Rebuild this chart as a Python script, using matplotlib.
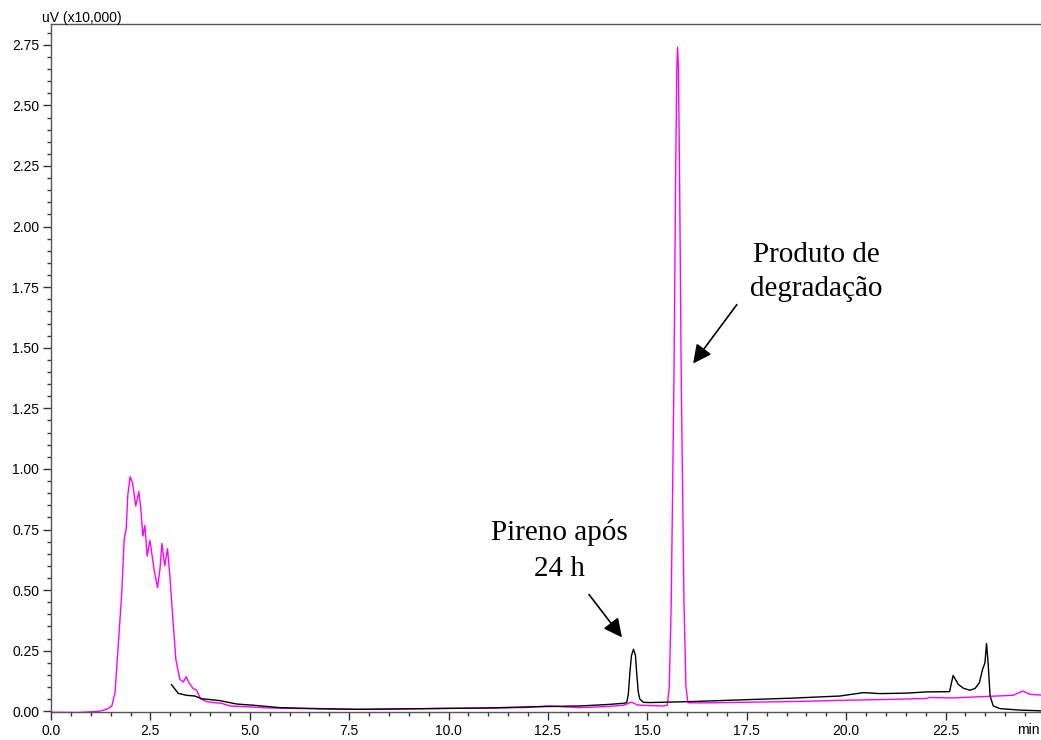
import numpy as np
import matplotlib
matplotlib.use("Agg")
import matplotlib.pyplot as plt
from matplotlib.ticker import MultipleLocator, FixedLocator

# cromatograma: produto de degradacao (magenta)
t_magenta = [0.0, 0.7, 1.2, 1.4, 1.53, 1.61, 1.69, 1.78, 1.84, 1.89, 1.93, 1.99,
             2.05, 2.13, 2.21, 2.26, 2.31, 2.36, 2.42, 2.49, 2.59, 2.68, 2.74,
             2.79, 2.86, 2.93, 2.99, 3.06, 3.14, 3.24, 3.33, 3.40, 3.48, 3.58,
             3.66, 3.76, 3.92, 4.08, 4.29, 4.5, 4.92, 5.42, 6.0, 7.0, 8.0, 9.0,
             10.0, 11.0, 12.0, 12.5, 13.3, 14.0, 14.4, 14.6, 14.75, 15.0, 15.4,
             15.50, 15.55, 15.60, 15.67, 15.71, 15.74, 15.76, 15.78, 15.81,
             15.85, 15.92, 15.97, 16.02, 16.5, 17.33, 18.6, 19.84, 21.1, 22.0,
             22.1, 22.65, 23.5, 24.2, 24.44, 24.62, 24.9]
uv_magenta = [-0.004, -0.005, 0.0, 0.008, 0.022, 0.077, 0.27, 0.49, 0.71, 0.75,
              0.89, 0.968, 0.943, 0.847, 0.906, 0.833, 0.723, 0.767, 0.64,
              0.705, 0.586, 0.51, 0.586, 0.693, 0.60, 0.671, 0.558, 0.393,
              0.214, 0.132, 0.121, 0.143, 0.115, 0.093, 0.088, 0.052, 0.040,
              0.036, 0.033, 0.022, 0.019, 0.014, 0.012, 0.009, 0.008, 0.010,
              0.012, 0.013, 0.016, 0.022, 0.015, 0.020, 0.025, 0.038, 0.026,
              0.024, 0.022, 0.025, 0.10, 0.45, 1.40, 2.20, 2.65, 2.74, 2.66,
              2.20, 1.40, 0.45, 0.10, 0.035, 0.035, 0.037, 0.040, 0.045, 0.049,
              0.053, 0.057, 0.055, 0.061, 0.066, 0.084, 0.070, 0.067]

# cromatograma: pireno apos 24 h (preto)
t_preto = [3.03, 3.12, 3.20, 3.41, 3.62, 3.79, 4.25, 4.67, 5.09, 5.76, 6.5,
           7.69, 9.36, 11.04, 12.2, 13.3, 14.0, 14.4, 14.48, 14.52, 14.56,
           14.60, 14.65, 14.70, 14.73, 14.77, 14.81, 14.9, 15.07, 16.07, 17.33,
           18.59, 19.84, 20.43, 20.85, 21.52, 22.02, 22.6, 22.69, 22.82, 22.95,
           23.11, 23.24, 23.35, 23.43, 23.49, 23.53, 23.57, 23.62, 23.70, 23.87,
           24.37, 24.9]
uv_preto = [0.110, 0.091, 0.074, 0.066, 0.063, 0.052, 0.044, 0.030, 0.025,
            0.015, 0.012, 0.008, 0.011, 0.014, 0.019, 0.022, 0.028, 0.033,
            0.036, 0.07, 0.16, 0.23, 0.256, 0.23, 0.16, 0.08, 0.05, 0.037,
            0.036, 0.040, 0.047, 0.054, 0.063, 0.077, 0.073, 0.075, 0.080,
            0.081, 0.148, 0.111, 0.095, 0.087, 0.094, 0.118, 0.173, 0.20, 0.28,
            0.20, 0.063, 0.022, 0.011, 0.005, 0.002]

xticks = [0.0, 2.5, 5.0, 7.5, 10.0, 12.5, 15.0, 17.5, 20.0, 22.5]
yticks = [0.00, 0.25, 0.50, 0.75, 1.00, 1.25, 1.50, 1.75, 2.00, 2.25, 2.50, 2.75]

fig = plt.figure(figsize=(10.41, 7.40), dpi=100)
ax = fig.add_axes([0.049, 0.0378, 0.951, 0.9298])

ax.plot(t_magenta, uv_magenta, color="#ff00ff", lw=1.0)
ax.plot(t_preto, uv_preto, color="black", lw=1.0)

ax.set_xlim(0, 24.9)
ax.set_ylim(-0.003, 2.836)

ax.spines["right"].set_visible(False)
for s in ["left", "bottom", "top"]:
    ax.spines[s].set_color("#555555")
    ax.spines[s].set_linewidth(1.0)

ax.xaxis.set_major_locator(FixedLocator(xticks))
ax.xaxis.set_minor_locator(MultipleLocator(0.5))
ax.yaxis.set_major_locator(FixedLocator(yticks))
ax.yaxis.set_minor_locator(MultipleLocator(0.05))
ax.set_xticklabels([f"{v:.1f}" for v in xticks])
ax.set_yticklabels([f"{v:.2f}" for v in yticks])

ax.tick_params(which="major", direction="out", length=5.5, width=1.0,
               color="#333333", labelsize=10, pad=3)
ax.tick_params(which="minor", direction="out", length=3, width=1.0,
               color="#333333")
for lab in ax.get_xticklabels() + ax.get_yticklabels():
    lab.set_family("Liberation Sans")

# rotulo "min" no fim do eixo x
fig.text(1040 / 1041, 1 - 723 / 740, "min", ha="right", va="top",
         fontsize=10, family="Liberation Sans")
fig.text(42 / 1041, 1 - 22 / 740, "uV (x10,000)", ha="left", va="baseline",
         fontsize=10, family="Liberation Sans")

serif = "Liberation Serif"
ax.text(19.25, 1.713, "Produto de\ndegradação", ha="center", va="baseline",
        fontsize=21, family=serif, linespacing=1.4)
ax.text(12.79, 0.558, "Pireno após\n24 h", ha="center", va="baseline",
        fontsize=21, family=serif, linespacing=1.5)

arrow = dict(arrowstyle="-|>", color="black", lw=1.2, mutation_scale=28,
             shrinkA=0, shrinkB=0)
ax.annotate("", xy=(16.15, 1.435), xytext=(17.25, 1.678), arrowprops=arrow)
ax.annotate("", xy=(14.36, 0.305), xytext=(13.53, 0.482), arrowprops=arrow)

fig.savefig("out.png", dpi=100)
